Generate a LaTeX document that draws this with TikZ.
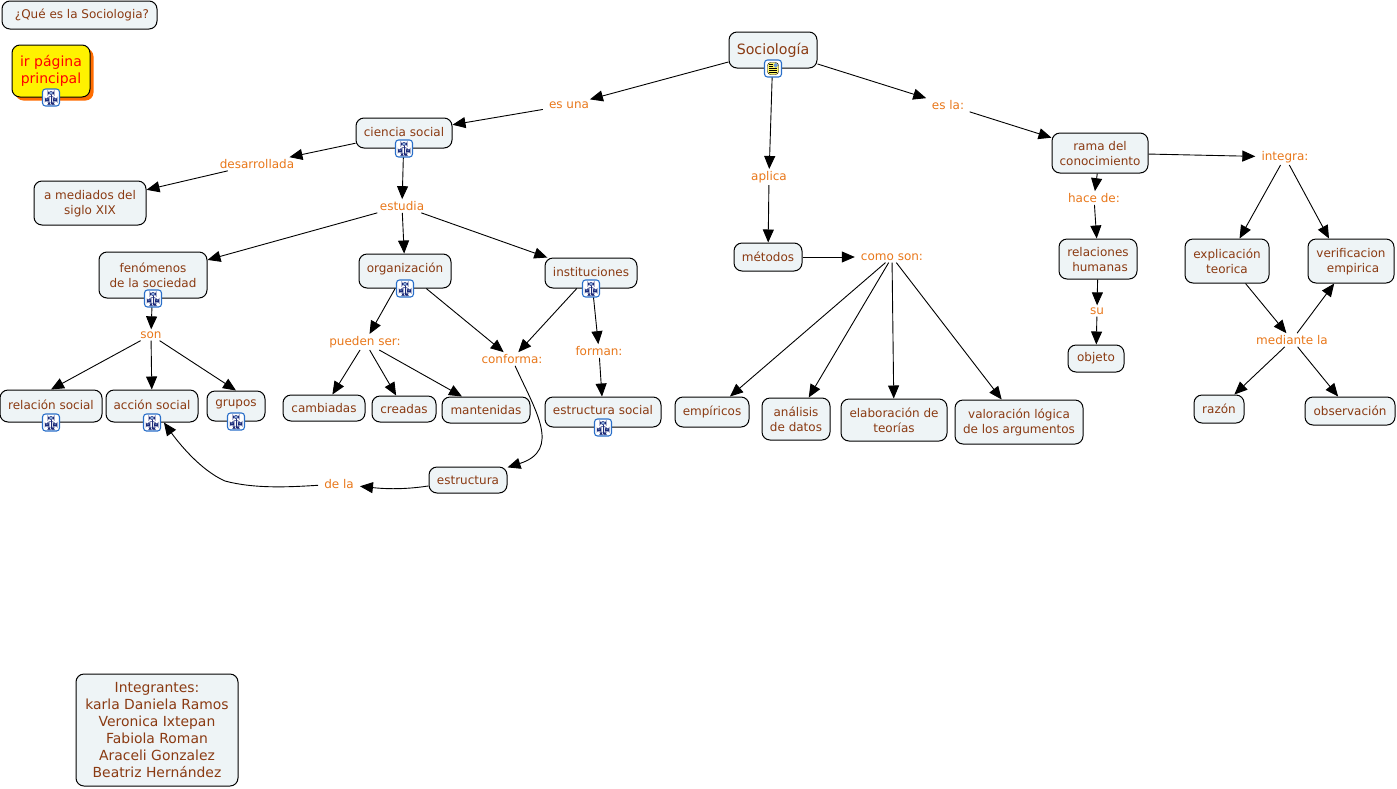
\documentclass[tikz,border=0pt]{standalone}
\usepackage{fontspec}
\setmainfont{DejaVu Sans}
\usetikzlibrary{arrows.meta,shadows}
\definecolor{conceptfill}{HTML}{EEF4F6}
\definecolor{conceptink}{HTML}{8A3A12}
\definecolor{linkink}{HTML}{E8771A}
\definecolor{iconblue}{HTML}{2A6FC9}
\definecolor{iconnavy}{HTML}{1C2A78}
\newcommand{\toppad}{\rule{0pt}{10pt}}
\tikzset{
concept/.style={draw=black,fill=conceptfill,rounded corners=8pt,text=conceptink,font=\fontsize{12}{15}\selectfont,align=center,inner sep=0pt,line width=1pt},
linkword/.style={text=linkink,font=\fontsize{12}{15}\selectfont,align=center,inner xsep=6pt,inner ysep=2pt},
treeicon/.style={draw=iconblue,fill=white,rounded corners=3pt,minimum size=17pt,inner sep=0pt,line width=1.1pt,
path picture={
\draw[iconnavy,fill=iconblue!50,line width=.6pt] ([xshift=-3pt,yshift=3pt]path picture bounding box.center) rectangle ++(6pt,3pt);
\draw[iconnavy,line width=.5pt] ([yshift=3pt]path picture bounding box.center) -- ([yshift=-6pt]path picture bounding box.center);
\draw[iconnavy,line width=.5pt] ([xshift=-4pt,yshift=-1pt]path picture bounding box.center) -- ([xshift=-4pt,yshift=1pt]path picture bounding box.center) -- ([xshift=4pt,yshift=1pt]path picture bounding box.center) -- ([xshift=4pt,yshift=-1pt]path picture bounding box.center);
\draw[iconnavy,fill=iconblue!50,line width=.5pt] ([xshift=-6pt,yshift=-3.5pt]path picture bounding box.center) rectangle ++(4pt,2.5pt);
\draw[iconnavy,fill=iconblue!50,line width=.5pt] ([xshift=2pt,yshift=-3.5pt]path picture bounding box.center) rectangle ++(4pt,2.5pt);
\fill[iconnavy] ([xshift=-3pt,yshift=-7pt]path picture bounding box.center) rectangle ++(2pt,2pt);
\fill[iconnavy] ([xshift=1pt,yshift=-7pt]path picture bounding box.center) rectangle ++(2pt,2pt);
}},
docicon/.style={draw=iconblue,fill=white,rounded corners=3pt,minimum size=17pt,inner sep=0pt,line width=1.1pt,
path picture={
\fill[yellow!60] ([xshift=-5.5pt,yshift=-6pt]path picture bounding box.center) rectangle ++(11pt,12pt);
\draw[black,line width=.4pt] ([xshift=-5.5pt,yshift=-6pt]path picture bounding box.center) rectangle ++(11pt,12pt);
\fill[iconblue!70] ([xshift=.5pt,yshift=1pt]path picture bounding box.center) rectangle ++(4.5pt,4.5pt);
\foreach \ly in {-4,-2,0}
\draw[black,line width=.5pt] ([xshift=-4pt,yshift=\ly pt]path picture bounding box.center) -- ++(8pt,0);
\foreach \ly in {2,4}
\draw[black,line width=.5pt] ([xshift=-4pt,yshift=\ly pt]path picture bounding box.center) -- ++(4pt,0);
}},
link/.style={-{Triangle[length=13pt,width=11pt]},black,line width=.9pt}
}
\begin{document}
\begin{tikzpicture}
[x=1pt,y=-1pt]
\useasboundingbox (0,0) rectangle (1397,788);
% concepts
\node[concept,minimum width=155pt,minimum height=28pt] (pregunta) at (79.5,15) {\hspace*{5pt}¿Qué es la Sociologia?};
\node[concept,minimum width=78pt,minimum height=52pt,fill=yellow,text=red,font=\fontsize{14}{17}\selectfont,drop shadow={shadow xshift=3.5pt,shadow yshift=-3.5pt,fill=orange!85!red,opacity=1}] (portada) at (51,71) {ir página\\principal};
\node[concept,minimum width=88pt,minimum height=36pt,font=\fontsize{14.2}{17}\selectfont] (sociologia) at (773,50) {Sociología};
\node[concept,minimum width=96pt,minimum height=30pt,text depth=2pt] (ciencia) at (404,133) {ciencia social};
\node[concept,minimum width=112pt,minimum height=44pt] (mediados) at (90,203) {\toppad a mediados del\\siglo XIX};
\node[concept,minimum width=108pt,minimum height=46pt] (fenomenos) at (153,275) {fenómenos\\de la sociedad};
\node[concept,minimum width=92pt,minimum height=34pt,text depth=6pt] (organizacion) at (405,271) {organización};
\node[concept,minimum width=92pt,minimum height=30pt,text depth=2pt] (instituciones) at (591,273) {instituciones};
\node[concept,minimum width=102pt,minimum height=32pt,text depth=2pt] (relacion) at (51,406) {relación social};
\node[concept,minimum width=92pt,minimum height=32pt,text depth=2pt] (accion) at (152,406) {acción social};
\node[concept,minimum width=58pt,minimum height=30pt,text depth=5pt] (grupos) at (236,406) {grupos};
\node[concept,minimum width=82pt,minimum height=26pt] (cambiadas) at (324,408) {cambiadas};
\node[concept,minimum width=64pt,minimum height=26pt] (creadas) at (404,409) {creadas};
\node[concept,minimum width=88pt,minimum height=26pt] (mantenidas) at (486,410) {mantenidas};
\node[concept,minimum width=116pt,minimum height=30pt,text depth=4pt] (estsocial) at (603,412) {estructura social};
\node[concept,minimum width=78pt,minimum height=26pt] (estructura) at (468,480) {estructura};
\node[concept,minimum width=68pt,minimum height=28pt] (metodos) at (768,257) {métodos};
\node[concept,minimum width=74pt,minimum height=30pt] (empiricos) at (712,412) {empíricos};
\node[concept,minimum width=68pt,minimum height=42pt] (analisis) at (796,419) {\toppad análisis\\de datos};
\node[concept,minimum width=106pt,minimum height=42pt] (elaboracion) at (894,420) {\toppad elaboración de\\teorías};
\node[concept,minimum width=128pt,minimum height=44pt] (valoracion) at (1019,422) {\toppad valoración lógica\\de los argumentos};
\node[concept,minimum width=96pt,minimum height=40pt] (rama) at (1100,153) {\toppad rama del\\conocimiento};
\node[concept,minimum width=78pt,minimum height=40pt] (relaciones) at (1098,259) {\toppad relaciones\\\hspace*{4pt}humanas};
\node[concept,minimum width=56pt,minimum height=27pt] (objeto) at (1096,358.5) {objeto};
\node[concept,minimum width=84pt,minimum height=44pt] (explicacion) at (1227,261) {\toppad explicación\\teorica};
\node[concept,minimum width=86pt,minimum height=44pt] (verificacion) at (1351,261) {\toppad verificacion\\\hspace*{4pt}empirica};
\node[concept,minimum width=50pt,minimum height=28pt] (razon) at (1219,409) {razón};
\node[concept,minimum width=90pt,minimum height=28pt] (observacion) at (1350,411) {observación};
\node[concept,minimum width=162pt,minimum height=112pt,font=\fontsize{13.9}{17}\selectfont] (integrantes) at (157,730) {Integrantes:\\karla Daniela Ramos\\Veronica Ixtepan\\Fabiola Roman\\Araceli Gonzalez\\Beatriz Hernández};
% linking words
\node[linkword] (esuna) at (569,105) {es una};
\node[linkword] (esla) at (948,105) {es la:};
\node[linkword] (desarrollada) at (257,164) {desarrollada};
\node[linkword] (estudia) at (402,206) {estudia};
\node[linkword] (aplica) at (769,177) {aplica};
\node[linkword] (integra) at (1285,157) {integra:};
\node[linkword] (hacede) at (1094,198) {hace de:};
\node[linkword] (son) at (151,335) {son};
\node[linkword] (puedenser) at (365,342) {pueden ser:};
\node[linkword] (conforma) at (512,359) {conforma:};
\node[linkword] (forman) at (599,351) {forman:};
\node[linkword] (comoson) at (892,257) {como son:};
\node[linkword] (su) at (1097,311) {su};
\node[linkword] (mediante) at (1292,340) {mediante la};
\node[linkword] (dela) at (339,484) {de la};
% connectors
\foreach \from/\to in {sociologia/esuna,esuna/ciencia,sociologia/aplica,aplica/metodos,sociologia/esla,esla/rama,
ciencia/desarrollada,desarrollada/mediados,ciencia/estudia,estudia/fenomenos,estudia/organizacion,estudia/instituciones,
fenomenos/son,son/relacion.north,son/accion,son/grupos.north,organizacion/puedenser,puedenser/cambiadas,puedenser/creadas,puedenser/mantenidas,
organizacion/conforma,instituciones/conforma,instituciones/forman,forman/estsocial,
metodos/comoson,comoson/empiricos,comoson/analisis,comoson/elaboracion,comoson/valoracion,
rama/hacede,hacede/relaciones,relaciones/su,su/objeto,rama/integra,integra/explicacion,
explicacion/mediante,mediante/verificacion,mediante/razon,mediante/observacion}
\draw[link] (\from) -- (\to);
\draw[link] (integra) -- ([xshift=-22pt]verificacion.north);
\draw[link] (conforma) .. controls (535,410) and (562,450) .. (estructura);
\draw[link] (estructura) .. controls (415,488) and (395,490) .. (dela);
\draw[link] (dela) .. controls (290,487) and (255,489) .. (225,481) .. controls (200,470) and (178,442) .. (accion);
% icons
\foreach \host in {portada,ciencia,fenomenos,organizacion,instituciones,relacion,accion,grupos,estsocial}
\node[treeicon] (ic\host) at (\host.south) {};
\node[docicon] (icsociologia) at (sociologia.south) {};
\end{tikzpicture}
\end{document}
